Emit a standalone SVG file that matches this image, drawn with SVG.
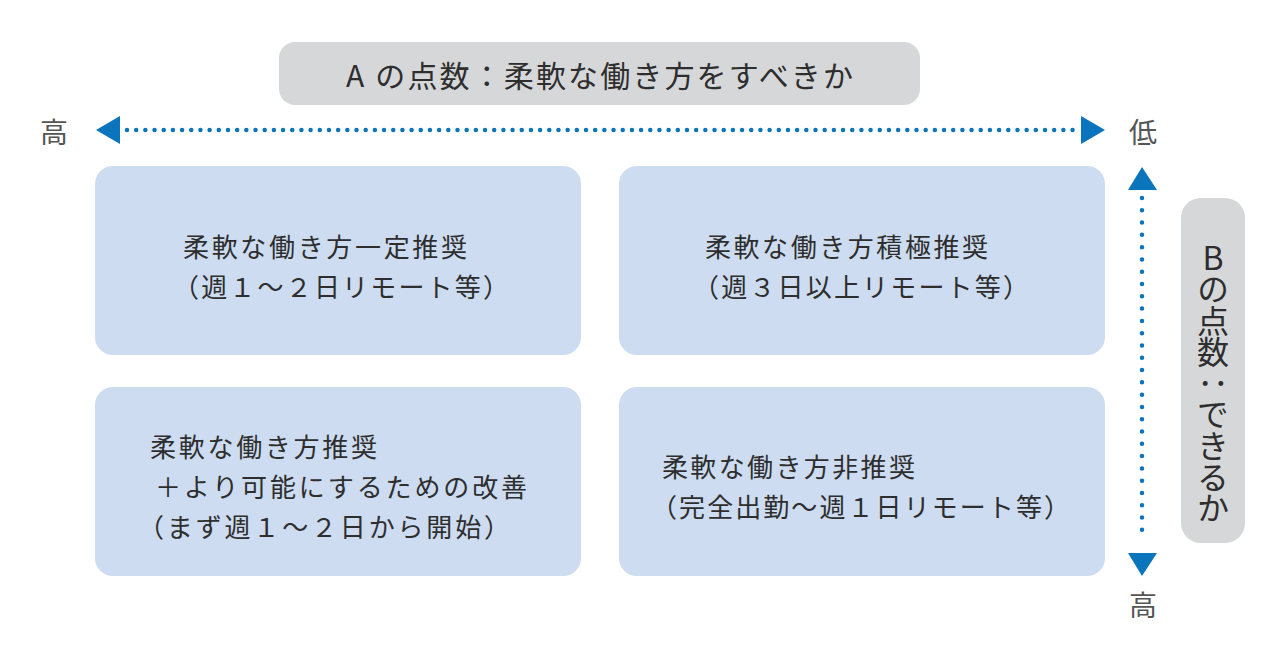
<svg xmlns="http://www.w3.org/2000/svg" width="1280" height="670" viewBox="0 0 1280 670">
<style>
.lbl{fill:#2e2e2e;font-family:"Noto Sans CJK JP","Noto Sans",sans-serif;dominant-baseline:central}
.box{fill:#cddcf0}
.hdr{fill:#d6d7d9}
.dots{stroke:#0a74bd;stroke-width:4.5;stroke-linecap:round;fill:none}
.head{fill:#0a74bd}
</style>
<rect width="1280" height="670" fill="#ffffff"/>
<g id="title">
<rect class="hdr" x="279" y="42" width="641" height="63" rx="16"/>
<text class="lbl" x="346" y="74" font-size="30" textLength="507" lengthAdjust="spacing">A の点数：柔軟な働き方をすべきか</text>
</g>
<g id="axis-b-label">
<rect class="hdr" x="1181" y="198" width="64" height="345" rx="20"/>
<text class="lbl" x="1213" y="242" font-size="32" style="writing-mode:vertical-rl;text-orientation:upright;dominant-baseline:auto" textLength="282" lengthAdjust="spacing">Bの点数：できるか</text>
</g>
<g id="axis-labels">
<text class="lbl" x="54" y="131" font-size="28" text-anchor="middle" style="fill:#555">高</text>
<text class="lbl" x="1143" y="131" font-size="28" text-anchor="middle" style="fill:#555">低</text>
<text class="lbl" x="1143" y="604" font-size="28" text-anchor="middle" style="fill:#555">高</text>
</g>
<g id="connectors">
<line class="dots" x1="127" y1="130" x2="1073" y2="130" stroke-dasharray="0 9.18"/>
<polygon class="head" points="96,130 120,116 120,144"/>
<polygon class="head" points="1105,130 1081,116 1081,144"/>
<line class="dots" x1="1142" y1="198" x2="1142" y2="542" stroke-dasharray="0 12.29"/>
<polygon class="head" points="1142,167 1128,190 1157,190"/>
<polygon class="head" points="1142,576 1128,553 1157,553"/>
</g>
<g id="q-top-left">
<rect class="box" x="95" y="166" width="486" height="189" rx="18"/>
<text class="lbl" x="183" y="245" font-size="26" textLength="284" lengthAdjust="spacing">柔軟な働き方一定推奨</text>
<text class="lbl" x="173" y="285" font-size="26" textLength="336" lengthAdjust="spacing">（週１～２日リモート等）</text>
</g>
<g id="q-top-right">
<rect class="box" x="619" y="166" width="486" height="189" rx="18"/>
<text class="lbl" x="705" y="245" font-size="26" textLength="283" lengthAdjust="spacing">柔軟な働き方積極推奨</text>
<text class="lbl" x="693" y="285" font-size="26" textLength="336" lengthAdjust="spacing">（週３日以上リモート等）</text>
</g>
<g id="q-bottom-left">
<rect class="box" x="95" y="387" width="486" height="189" rx="18"/>
<text class="lbl" x="150" y="445" font-size="26" textLength="227" lengthAdjust="spacing">柔軟な働き方推奨</text>
<text class="lbl" x="155" y="485" font-size="26" textLength="372" lengthAdjust="spacing">＋より可能にするための改善</text>
<text class="lbl" x="138" y="525" font-size="26" textLength="372" lengthAdjust="spacing">（まず週１～２日から開始）</text>
</g>
<g id="q-bottom-right">
<rect class="box" x="619" y="387" width="486" height="189" rx="18"/>
<text class="lbl" x="662" y="465" font-size="26" textLength="253" lengthAdjust="spacing">柔軟な働き方非推奨</text>
<text class="lbl" x="651" y="505" font-size="26" textLength="419" lengthAdjust="spacing">（完全出勤～週１日リモート等）</text>
</g>
</svg>
